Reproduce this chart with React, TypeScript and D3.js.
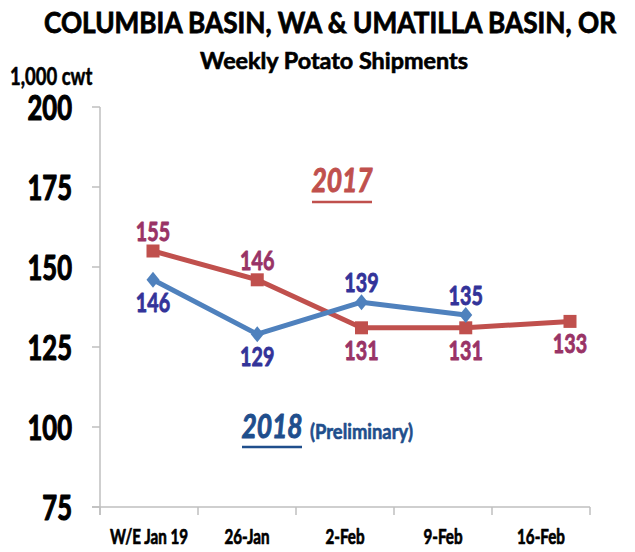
import React, { useEffect, useRef } from 'react';
import * as d3 from 'd3';

const categories = ['W/E Jan 19', '26-Jan', '2-Feb', '9-Feb', '16-Feb'];
const shipments2017 = [155, 146, 131, 131, 133];
const shipments2018 = [146, 129, 139, 135];
const yTicks = [75, 100, 125, 150, 175, 200];

// where each value label sits relative to its marker
const labelSide2017 = ['above', 'above', 'below', 'below', 'below'];
const labelSide2018 = ['below', 'below', 'above', 'above'];

const width = 635;
const height = 552;
const FONT = "Lato, 'DejaVu Sans Condensed', sans-serif";
const SX = 0.73; // the source text is narrow and tall

const RED = '#C0504D';
const BLUE = '#4F81BD';
const RED_LABEL = '#993366';
const BLUE_LABEL = '#333399';
const LEGEND_BLUE = '#1F4E8C';
const AXIS_GRAY = '#BFBFBF';

type Point = { cat: string; value: number; side: string };

type TextOpts = {
  size: number;
  fill?: string;
  anchor?: string;
  italic?: boolean;
  sx?: number;
  heavy?: number;
};

// Lato has no black weight here, so a thin stroke of the fill colour thickens the glyphs
const addText = (
  parent: d3.Selection<any, unknown, null, undefined>,
  x: number,
  y: number,
  str: string,
  opts: TextOpts
) =>
  parent
    .append('text')
    .attr('transform', `translate(${x},${y}) scale(${opts.sx ?? SX},1)`)
    .attr('text-anchor', opts.anchor ?? 'start')
    .attr('font-family', FONT)
    .attr('font-weight', 700)
    .attr('font-style', opts.italic ? 'italic' : 'normal')
    .attr('font-size', opts.size)
    .attr('fill', opts.fill ?? '#000')
    .attr('stroke', opts.fill ?? '#000')
    .attr('stroke-width', opts.heavy ?? 1)
    .attr('stroke-linejoin', 'round')
    .text(str);

const App: React.FC = () => {
  const svgRef = useRef<SVGSVGElement | null>(null);

  useEffect(() => {
    if (!svgRef.current) return;
    const svg = d3.select(svgRef.current);
    svg.selectAll('*').remove();
    const root = svg.append('g') as d3.Selection<any, unknown, null, undefined>;

    const xAxisScale = d3.scaleBand<string>().domain(categories).range([100, 590]);
    const xPlot = d3.scalePoint<string>().domain(categories).range([153, 570]);
    const y = d3.scaleLinear().domain([75, 200]).range([507, 107]);

    // titles
    root.append('text')
      .attr('x', 330).attr('y', 33)
      .attr('text-anchor', 'middle')
      .attr('font-family', FONT).attr('font-weight', 700).attr('font-size', 28)
      .attr('stroke', '#000').attr('stroke-width', 0.8)
      .attr('textLength', 572).attr('lengthAdjust', 'spacingAndGlyphs')
      .text('COLUMBIA BASIN, WA & UMATILLA BASIN, OR');

    root.append('text')
      .attr('x', 334).attr('y', 69)
      .attr('text-anchor', 'middle')
      .attr('font-family', FONT).attr('font-weight', 700).attr('font-size', 22)
      .attr('stroke', '#000').attr('stroke-width', 0.6)
      .attr('textLength', 268).attr('lengthAdjust', 'spacingAndGlyphs')
      .text('Weekly Potato Shipments');

    addText(root, 10, 85, '1,000 cwt', { size: 24, sx: 0.77, heavy: 0.6 });

    // y axis
    const yAxis = root.append('g');
    yAxis.append('line')
      .attr('x1', 100).attr('x2', 100).attr('y1', y(200)).attr('y2', y(75) + 8)
      .attr('stroke', AXIS_GRAY).attr('stroke-width', 1.5);
    yTicks.forEach(t => {
      yAxis.append('line')
        .attr('x1', 92).attr('x2', 100).attr('y1', y(t)).attr('y2', y(t))
        .attr('stroke', AXIS_GRAY).attr('stroke-width', 1.5);
      addText(yAxis, 72, y(t) + 12.5, String(t), { size: 35, anchor: 'end', heavy: 1.2 });
    });

    // x axis
    const xAxis = root.append('g');
    xAxis.append('line')
      .attr('x1', 92).attr('x2', 590).attr('y1', y(75)).attr('y2', y(75))
      .attr('stroke', AXIS_GRAY).attr('stroke-width', 1.5);
    const boundaries = [...categories.map(c => xAxisScale(c) ?? 0), 590];
    boundaries.forEach(b => {
      xAxis.append('line')
        .attr('x1', b).attr('x2', b).attr('y1', y(75)).attr('y2', y(75) + 8)
        .attr('stroke', AXIS_GRAY).attr('stroke-width', 1.5);
    });
    categories.forEach(c => {
      addText(xAxis, (xAxisScale(c) ?? 0) + xAxisScale.bandwidth() / 2, 544, c, {
        size: 20,
        anchor: 'middle',
        sx: 0.76,
        heavy: 0.7,
      });
    });

    const pts2017: Point[] = shipments2017.map((v, i) => ({ cat: categories[i], value: v, side: labelSide2017[i] }));
    const pts2018: Point[] = shipments2018.map((v, i) => ({ cat: categories[i], value: v, side: labelSide2018[i] }));

    const line = d3.line<Point>()
      .x(d => xPlot(d.cat) ?? 0)
      .y(d => y(d.value));

    const drawSeries = (
      data: Point[],
      color: string,
      labelColor: string,
      marker: 'square' | 'diamond'
    ) => {
      const g = root.append('g');
      g.append('path')
        .datum(data)
        .attr('fill', 'none')
        .attr('stroke', color)
        .attr('stroke-width', 5)
        .attr('stroke-linejoin', 'round')
        .attr('d', line);

      if (marker === 'square') {
        g.selectAll('.mk')
          .data(data)
          .join('rect')
          .attr('x', d => (xPlot(d.cat) ?? 0) - 6.5)
          .attr('y', d => y(d.value) - 6.5)
          .attr('width', 13).attr('height', 13)
          .attr('fill', color);
      } else {
        g.selectAll('.mk')
          .data(data)
          .join('path')
          .attr('transform', d => `translate(${xPlot(d.cat) ?? 0},${y(d.value)})`)
          .attr('d', 'M0,-8L6.5,0L0,8L-6.5,0Z')
          .attr('fill', color);
      }

      data.forEach(d => {
        addText(
          g,
          xPlot(d.cat) ?? 0,
          y(d.value) + (d.side === 'above' ? -10 : 32),
          String(d.value),
          { size: 27, anchor: 'middle', fill: labelColor, heavy: 0.9 }
        );
      });
    };

    drawSeries(pts2017, RED, RED_LABEL, 'square');
    drawSeries(pts2018, BLUE, BLUE_LABEL, 'diamond');

    // series captions
    addText(root, 342, 192, '2017', { size: 33, anchor: 'middle', italic: true, fill: RED, sx: 0.8, heavy: 1 });
    root.append('line')
      .attr('x1', 312).attr('x2', 372).attr('y1', 202).attr('y2', 202)
      .attr('stroke', RED).attr('stroke-width', 2.5);

    addText(root, 272, 438, '2018', { size: 33, anchor: 'middle', italic: true, fill: LEGEND_BLUE, sx: 0.8, heavy: 1 });
    root.append('line')
      .attr('x1', 242).attr('x2', 302).attr('y1', 447).attr('y2', 447)
      .attr('stroke', LEGEND_BLUE).attr('stroke-width', 2.5);
    addText(root, 310, 439, '(Preliminary)', { size: 20, fill: LEGEND_BLUE, sx: 0.92, heavy: 0.6 });
  }, []);

  return (
    <svg
      ref={svgRef}
      width={width}
      height={height}
      viewBox={`0 0 ${width} ${height}`}
      style={{ position: 'absolute', left: 0, top: 0, background: '#fff' }}
    />
  );
};

export default App;
